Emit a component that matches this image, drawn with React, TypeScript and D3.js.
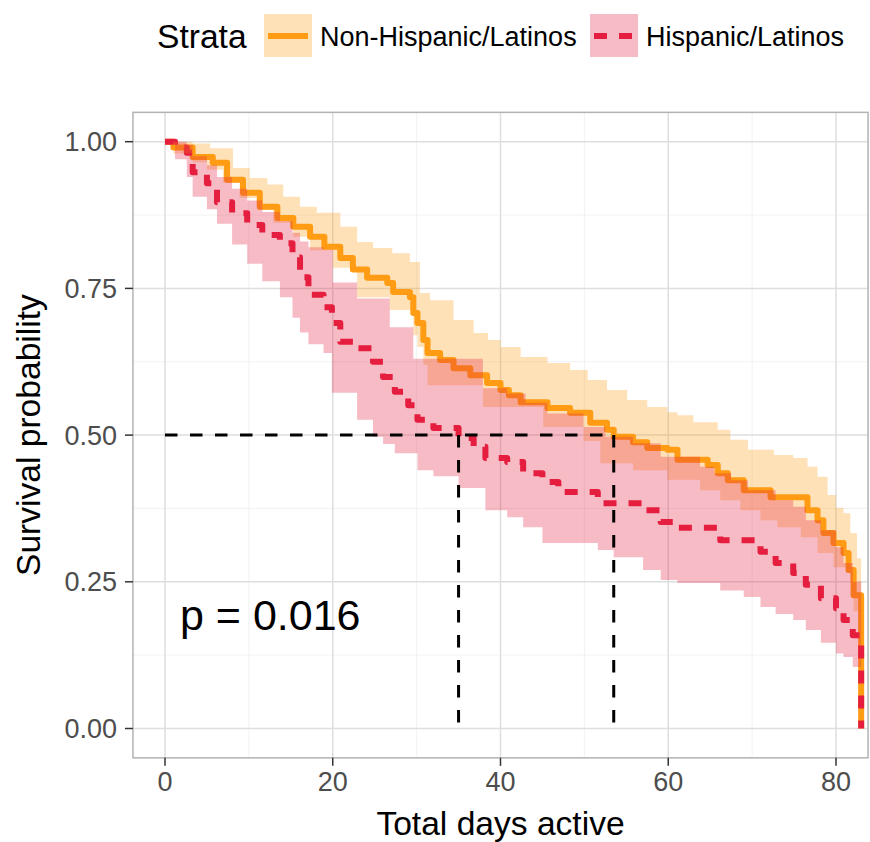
import React from "react";
import * as d3 from "d3";

// ---- Kaplan–Meier estimates: [day, survival] at each step ----
const nonHispanicSurv: [number, number][] = [
  [0, 1], [1, 0.99], [3.3, 0.974], [5.7, 0.964], [7.4, 0.935], [9.3, 0.913],
  [11.3, 0.889], [13.4, 0.87], [15.3, 0.855], [17.3, 0.838], [19, 0.821],
  [20.9, 0.802], [22.4, 0.782], [24.1, 0.768], [26.5, 0.759], [27.2, 0.744],
  [29.2, 0.735], [29.6, 0.708], [30.1, 0.691], [30.8, 0.662], [31.3, 0.64],
  [32.8, 0.628], [34.4, 0.614], [36.4, 0.602], [38.4, 0.589], [40, 0.577],
  [41, 0.568], [42.4, 0.556], [45.6, 0.546], [48.3, 0.538], [50.7, 0.521],
  [52.7, 0.509], [53.5, 0.497], [55.8, 0.488], [57.5, 0.478], [59.9, 0.475],
  [61.1, 0.458], [64.7, 0.449], [65.9, 0.435], [67.1, 0.423], [69, 0.406],
  [72.2, 0.394], [76.6, 0.372], [77.8, 0.355], [78.5, 0.333], [79.7, 0.316],
  [80.9, 0.299], [81.5, 0.27], [82.1, 0.227],
];

const nonHispanicUpper: [number, number][] = [
  [0, 1], [3.3, 0.997], [5.4, 0.989], [8.1, 0.955], [10.1, 0.938], [12.2, 0.927],
  [14.1, 0.906], [16.1, 0.889], [18.1, 0.879], [20.9, 0.855], [22.9, 0.829],
  [24.8, 0.819], [27.1, 0.81], [29.2, 0.795], [30.4, 0.742], [31.6, 0.73],
  [34.4, 0.696], [36.8, 0.674], [38.5, 0.662], [40, 0.65], [42.4, 0.633],
  [45.6, 0.623], [48.3, 0.611], [50.4, 0.594], [52.7, 0.577], [55.1, 0.56],
  [57.5, 0.548], [59.9, 0.539], [61.1, 0.534], [63, 0.522], [65.9, 0.509],
  [67.4, 0.492], [69.5, 0.475], [72.6, 0.466], [74.9, 0.461], [76.6, 0.446],
  [77.8, 0.429], [79, 0.398], [80, 0.376], [80.9, 0.367], [81.7, 0.333],
  [82.5, 0.29],
];

const nonHispanicLower: [number, number][] = [
  [0, 1], [1, 0.98], [3.3, 0.965], [5, 0.952], [6.9, 0.93], [8.9, 0.904],
  [11, 0.884], [12.9, 0.862], [15.3, 0.838], [17.3, 0.815], [20, 0.785],
  [22.9, 0.735], [26.8, 0.713], [29.6, 0.67], [30.1, 0.65], [30.8, 0.62],
  [31.3, 0.585], [37.9, 0.548], [45.1, 0.514], [49.9, 0.49], [51.9, 0.452],
  [55.8, 0.44], [59.9, 0.424], [63.8, 0.406], [66.2, 0.389], [68.6, 0.372],
  [71, 0.355], [73, 0.343], [75.8, 0.326], [77.8, 0.299], [79.7, 0.275],
  [81.7, 0.25], [82.1, 0.2],
];

const hispanicSurv: [number, number][] = [
  [0, 1], [1.2, 0.99], [2.6, 0.981], [3.3, 0.948], [5, 0.929], [6.2, 0.897],
  [8, 0.878], [9.8, 0.858], [11.6, 0.841], [13.7, 0.827], [15.2, 0.803],
  [16.1, 0.769], [17.1, 0.739], [18.9, 0.718], [19.9, 0.691], [20.9, 0.659],
  [22.9, 0.648], [24.8, 0.625], [26, 0.599], [27.4, 0.574], [29, 0.551],
  [30.1, 0.526], [32, 0.512], [35, 0.495], [36.8, 0.48], [38.2, 0.461],
  [40.8, 0.454], [42.7, 0.435], [45, 0.42], [46.9, 0.403], [51.6, 0.384],
  [57, 0.372], [59.1, 0.352], [61.1, 0.342], [66.2, 0.321], [71, 0.301],
  [72.8, 0.282], [74.9, 0.265], [76.4, 0.245], [78.2, 0.222], [80, 0.205],
  [80.9, 0.185], [82, 0.159],
];

const hispanicUpper: [number, number][] = [
  [0, 1], [2.6, 0.995], [3.3, 0.975], [5, 0.96], [6.2, 0.94], [8, 0.92],
  [9.8, 0.9], [11.6, 0.88], [13.7, 0.865], [15.2, 0.845], [16.1, 0.83],
  [17.1, 0.82], [18.9, 0.816], [20, 0.76], [22.9, 0.733], [26.8, 0.684],
  [29.6, 0.63], [37.9, 0.58], [40.8, 0.571], [43, 0.555], [45.6, 0.537],
  [49.9, 0.514], [52.5, 0.497], [55.8, 0.486], [59.1, 0.463], [63.8, 0.446],
  [65.5, 0.435], [67.5, 0.423], [69.5, 0.406], [72.8, 0.389], [74.9, 0.378],
  [76.4, 0.355], [78.2, 0.338], [80, 0.309], [80.9, 0.282], [82, 0.25],
];

const hispanicLower: [number, number][] = [
  [0, 1], [1.2, 0.97], [2.6, 0.94], [3.3, 0.906], [5, 0.885], [6.2, 0.86],
  [8, 0.825], [9.8, 0.792], [11.6, 0.762], [13.7, 0.735], [15.2, 0.7],
  [16.1, 0.675], [17.1, 0.655], [18.9, 0.64], [19.9, 0.572], [22.9, 0.526],
  [24.8, 0.497], [26, 0.485], [27.4, 0.469], [30.1, 0.44], [32, 0.43],
  [35, 0.41], [38.2, 0.372], [40.8, 0.36], [42.7, 0.343], [45, 0.316],
  [51.6, 0.304], [53.5, 0.292], [57, 0.27], [59.1, 0.253], [61.1, 0.248],
  [66.2, 0.235], [69, 0.224], [71, 0.207], [72.8, 0.195], [74.9, 0.185],
  [76.4, 0.168], [78.2, 0.146], [80, 0.128], [80.9, 0.122], [82, 0.105],
];

const lastDay = 83;

const strataNames = ["Non-Hispanic/Latinos", "Hispanic/Latinos"];
const strataColors = ["#FF9C14", "#E61E3E"];
const strataDash = [null, "13 12"];

const xTicks = [0, 20, 40, 60, 80];
const xMinorTicks = [10, 30, 50, 70];
const yTicks = [0, 0.25, 0.5, 0.75, 1];
const yTickLabels = ["0.00", "0.25", "0.50", "0.75", "1.00"];
const yMinorTicks = [0.125, 0.375, 0.625, 0.875];

const pValueLabel = "p = 0.016";
const xTitle = "Total days active";
const yTitle = "Survival probability";
const legendTitle = "Strata";

const FONT = "'Liberation Sans', Arial, Helvetica, sans-serif";

function valueAt(steps: [number, number][], t: number): number {
  let v = steps[0][1];
  for (const [s, val] of steps) {
    if (s <= t) v = val;
    else break;
  }
  return v;
}

function ribbon(upper: [number, number][], lower: [number, number][]) {
  const times = Array.from(
    new Set([...upper.map((d) => d[0]), ...lower.map((d) => d[0]), lastDay])
  ).sort((a, b) => a - b);
  return times.map((t) => ({ t, hi: valueAt(upper, t), lo: valueAt(lower, t) }));
}

function medianOf(steps: [number, number][]): number {
  const hit = steps.find((d) => d[1] <= 0.5);
  return hit ? hit[0] : NaN;
}

export default function App() {
  const width = 870;
  const height = 842;

  const x = d3.scaleLinear().domain([0, 80]).range([165, 836]);
  const y = d3.scaleLinear().domain([0, 1]).range([728.5, 141.7]);

  const panelLeft = x(-3.82);
  const panelRight = x(83.82);
  const panelTop = y(1.05);
  const panelBottom = y(-0.05);

  const survLine = d3
    .line<[number, number]>()
    .x((d) => x(d[0]))
    .y((d) => y(d[1]))
    .curve(d3.curveStepAfter);

  const band = d3
    .area<{ t: number; hi: number; lo: number }>()
    .x((d) => x(d.t))
    .y0((d) => y(d.lo))
    .y1((d) => y(d.hi))
    .curve(d3.curveStepAfter);

  const curves = [nonHispanicSurv, hispanicSurv].map((s) => [
    ...s,
    [lastDay, 0] as [number, number],
  ]);
  const bands = [
    ribbon(nonHispanicUpper, nonHispanicLower),
    ribbon(hispanicUpper, hispanicLower),
  ];
  const medians = [medianOf(nonHispanicSurv), medianOf(hispanicSurv)];
  const maxMedian = d3.max(medians) as number;

  const legendKeys = [
    { keyX: 264, labelX: 320 },
    { keyX: 590, labelX: 646 },
  ];

  return (
    <svg
      width={width}
      height={height}
      style={{ position: "absolute", left: 0, top: 0, background: "#fff" }}
      fontFamily={FONT}
    >
      <rect x={0} y={0} width={width} height={height} fill="#fff" />

      {/* grid */}
      <g>
        {xMinorTicks.map((t) => (
          <line key={"xm" + t} x1={x(t)} x2={x(t)} y1={panelTop} y2={panelBottom} stroke="#EFEFEF" strokeWidth={0.8} />
        ))}
        {yMinorTicks.map((t) => (
          <line key={"ym" + t} x1={panelLeft} x2={panelRight} y1={y(t)} y2={y(t)} stroke="#EFEFEF" strokeWidth={0.8} />
        ))}
        {xTicks.map((t) => (
          <line key={"xg" + t} x1={x(t)} x2={x(t)} y1={panelTop} y2={panelBottom} stroke="#DEDEDE" strokeWidth={1.5} />
        ))}
        {yTicks.map((t) => (
          <line key={"yg" + t} x1={panelLeft} x2={panelRight} y1={y(t)} y2={y(t)} stroke="#DEDEDE" strokeWidth={1.5} />
        ))}
      </g>

      {/* survival curves */}
      <g fill="none" strokeLinejoin="round" strokeLinecap="butt">
        {curves.map((c, i) => (
          <path
            key={"c" + i}
            d={survLine(c) || ""}
            stroke={strataColors[i]}
            strokeWidth={6}
            strokeDasharray={strataDash[i] || undefined}
          />
        ))}
      </g>

      {/* confidence bands */}
      <g>
        {bands.map((b, i) => (
          <path key={"b" + i} d={band(b) || ""} fill={strataColors[i]} fillOpacity={0.3} />
        ))}
      </g>

      {/* median survival lines */}
      <g stroke="#000" strokeWidth={3} strokeDasharray="12.5 12.5" fill="none">
        <line x1={x(0)} x2={x(maxMedian)} y1={y(0.5)} y2={y(0.5)} />
        {medians.map((m, i) => (
          <line key={"m" + i} x1={x(m)} x2={x(m)} y1={y(0.5)} y2={y(0)} />
        ))}
      </g>

      {/* panel border */}
      <rect
        x={panelLeft}
        y={panelTop}
        width={panelRight - panelLeft}
        height={panelBottom - panelTop}
        fill="none"
        stroke="#B3B3B3"
        strokeWidth={1.5}
      />

      {/* x axis */}
      <g>
        {xTicks.map((t) => (
          <g key={"xt" + t}>
            <line x1={x(t)} x2={x(t)} y1={panelBottom} y2={panelBottom + 8} stroke="#333" strokeWidth={1.5} />
            <text x={x(t)} y={791} textAnchor="middle" fontSize={27} fill="#4D4D4D">
              {t}
            </text>
          </g>
        ))}
        <text x={(panelLeft + panelRight) / 2} y={835} textAnchor="middle" fontSize={33.6} fill="#000">
          {xTitle}
        </text>
      </g>

      {/* y axis */}
      <g>
        {yTicks.map((t, i) => (
          <g key={"yt" + t}>
            <line x1={panelLeft - 8} x2={panelLeft} y1={y(t)} y2={y(t)} stroke="#333" strokeWidth={1.5} />
            <text x={117} y={y(t)} dy="0.35em" textAnchor="end" fontSize={27} fill="#4D4D4D">
              {yTickLabels[i]}
            </text>
          </g>
        ))}
        <text
          transform={`translate(40,${(panelTop + panelBottom) / 2}) rotate(-90)`}
          textAnchor="middle"
          fontSize={33.6}
          fill="#000"
        >
          {yTitle}
        </text>
      </g>

      {/* p-value */}
      <text x={180} y={630} fontSize={43} fill="#000">
        {pValueLabel}
      </text>

      {/* legend */}
      <g>
        <text x={157} y={48} fontSize={33.6} fill="#000">
          {legendTitle}
        </text>
        {strataNames.map((name, i) => (
          <g key={"lg" + i}>
            <line
              x1={legendKeys[i].keyX + 4}
              x2={legendKeys[i].keyX + 44}
              y1={36}
              y2={36}
              stroke={strataColors[i]}
              strokeWidth={6}
              strokeDasharray={strataDash[i] || undefined}
            />
            <rect
              x={legendKeys[i].keyX}
              y={14}
              width={48}
              height={43}
              fill={strataColors[i]}
              fillOpacity={0.3}
            />
            <text x={legendKeys[i].labelX} y={46} fontSize={27} fill="#000">
              {name}
            </text>
          </g>
        ))}
      </g>
    </svg>
  );
}
